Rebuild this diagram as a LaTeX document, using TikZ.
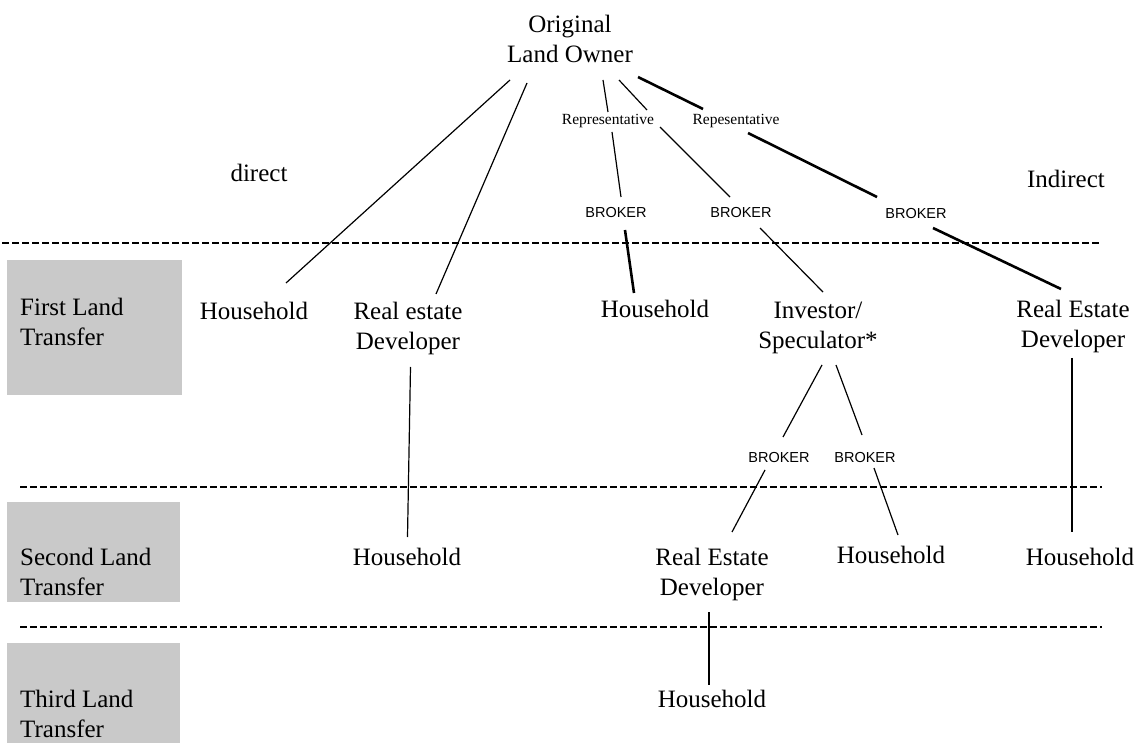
\documentclass[tikz,border=0pt]{standalone}
\usepackage{fontspec}
\setmainfont{Liberation Serif}
\newfontfamily\brokerfont{Liberation Sans}
\newcommand{\twolines}[2]{\begin{tabular}[t]{@{}c@{}}#1\\#2\end{tabular}}
\newcommand{\twoleft}[2]{\begin{tabular}[t]{@{}l@{}}#1\\#2\end{tabular}}
\tikzset{
  party/.style={anchor=base, inner sep=0pt, font=\fontsize{25}{30}\selectfont},
  rep/.style={anchor=base, inner sep=0pt, font=\fontsize{15.5}{18}\selectfont},
  broker/.style={anchor=base, inner sep=0pt, font=\brokerfont\fontsize{14.5}{17}\selectfont},
  stage/.style={anchor=base west, inner sep=0pt, font=\fontsize{25}{30}\selectfont},
  stagebox/.style={fill=black!21, draw=none},
  link/.style={line width=1.2pt},
  heavylink/.style={line width=2.6pt},
  divider/.style={line width=1.8pt, dash pattern=on 6.5pt off 3.5pt}
}
\begin{document}
\begin{tikzpicture}[x=1pt,y=-1pt]
\useasboundingbox (0,0) rectangle (1144,743);

% stage bands on the left
\fill[stagebox] (7,260) rectangle (182,395);
\fill[stagebox] (7,502) rectangle (180,602);
\fill[stagebox] (7,643) rectangle (180,743);
\node[stage] (first)  at (20,316) {\twoleft{First Land}{Transfer}};
\node[stage] (second) at (20,565) {\twoleft{Second Land}{Transfer}};
\node[stage] (third)  at (20,707) {\twoleft{Third Land}{Transfer}};

% dividers between transfers
\draw[divider] (2,243) -- (1102,243);
\draw[divider] (20,487) -- (1102,487);
\draw[divider] (20,627) -- (1102,627);

% parties
\node[party] (owner) at (570,33) {\twolines{Original}{Land Owner}};
\node[party] (direct) at (259,182) {direct};
\node[party] (indirect) at (1066,188) {Indirect};

\node[rep] (rep1) at (608,125) {Representative};
\node[rep] (rep2) at (736,125) {Repesentative};

\node[broker] (b1) at (616,218) {BROKER};
\node[broker] (b2) at (741,218) {BROKER};
\node[broker] (b3) at (916,219) {BROKER};
\node[broker] (b4) at (779,462) {BROKER};
\node[broker] (b5) at (865,462) {BROKER};

\node[party] (hh1) at (254,320) {Household};
\node[party] (red1) at (408,320) {\twolines{Real estate}{Developer}};
\node[party] (hh2) at (655,318) {Household};
\node[party] (inv) at (818,319) {\twolines{Investor/}{Speculator*}};
\node[party] (red3) at (1073,318) {\twolines{Real Estate}{Developer}};

\node[party] (hh4) at (407,565) {Household};
\node[party] (red2) at (712,565) {\twolines{Real Estate}{Developer}};
\node[party] (hh5) at (891,563) {Household};
\node[party] (hh6) at (1080,565) {Household};

\node[party] (hh7) at (712,707) {Household};

% connector end points
\coordinate (o1) at (510,80);   \coordinate (hh1t) at (286,283);
\coordinate (o2) at (527,83);   \coordinate (red1t) at (436,294);
\coordinate (o3) at (603,80);   \coordinate (rep1t) at (608,112);
\coordinate (rep1b) at (612,132); \coordinate (b1t) at (621,197);
\coordinate (o4) at (619,80);   \coordinate (rep1e) at (647,110);
\coordinate (rep1f) at (660,127); \coordinate (b2t) at (730,197);
\coordinate (o5) at (638,77);   \coordinate (rep2t) at (703,109);
\coordinate (rep2b) at (748,133); \coordinate (b3t) at (877,197);
\coordinate (b1b) at (625,230); \coordinate (hh2t) at (634,293);
\coordinate (b2b) at (760,228); \coordinate (invt) at (823,292);
\coordinate (b3b) at (933,228); \coordinate (red3t) at (1061,289);
\coordinate (red3b) at (1072,358); \coordinate (hh6t) at (1072,532);
\coordinate (red1b) at (410.5,367); \coordinate (hh4t) at (407.5,537);
\coordinate (invb1) at (822,365); \coordinate (b4t) at (783,437);
\coordinate (invb2) at (836,365); \coordinate (b5t) at (862,435);
\coordinate (b4b) at (765,470); \coordinate (red2t) at (732,532);
\coordinate (b5b) at (874,468); \coordinate (hh5t) at (898,535);
\coordinate (red2b) at (709,612); \coordinate (hh7t) at (709,685);

% direct transfers
\draw[link] (o1) -- (hh1t);
\draw[link] (o2) -- (red1t);
% through representatives and brokers
\draw[link] (o3) -- (rep1t);
\draw[link] (rep1b) -- (b1t);
\draw[link] (o4) -- (rep1e);
\draw[link] (rep1f) -- (b2t);
\draw[heavylink] (o5) -- (rep2t);
\draw[heavylink] (rep2b) -- (b3t);
\draw[heavylink] (b1b) -- (hh2t);
\draw[link] (b2b) -- (invt);
\draw[heavylink] (b3b) -- (red3t);
% later transfers
\draw[link] (red1b) -- (hh4t);
\draw[link] (red3b) -- (hh6t);
\draw[link] (invb1) -- (b4t);
\draw[link] (invb2) -- (b5t);
\draw[link] (b4b) -- (red2t);
\draw[link] (b5b) -- (hh5t);
\draw[link] (red2b) -- (hh7t);
\end{tikzpicture}
\end{document}
